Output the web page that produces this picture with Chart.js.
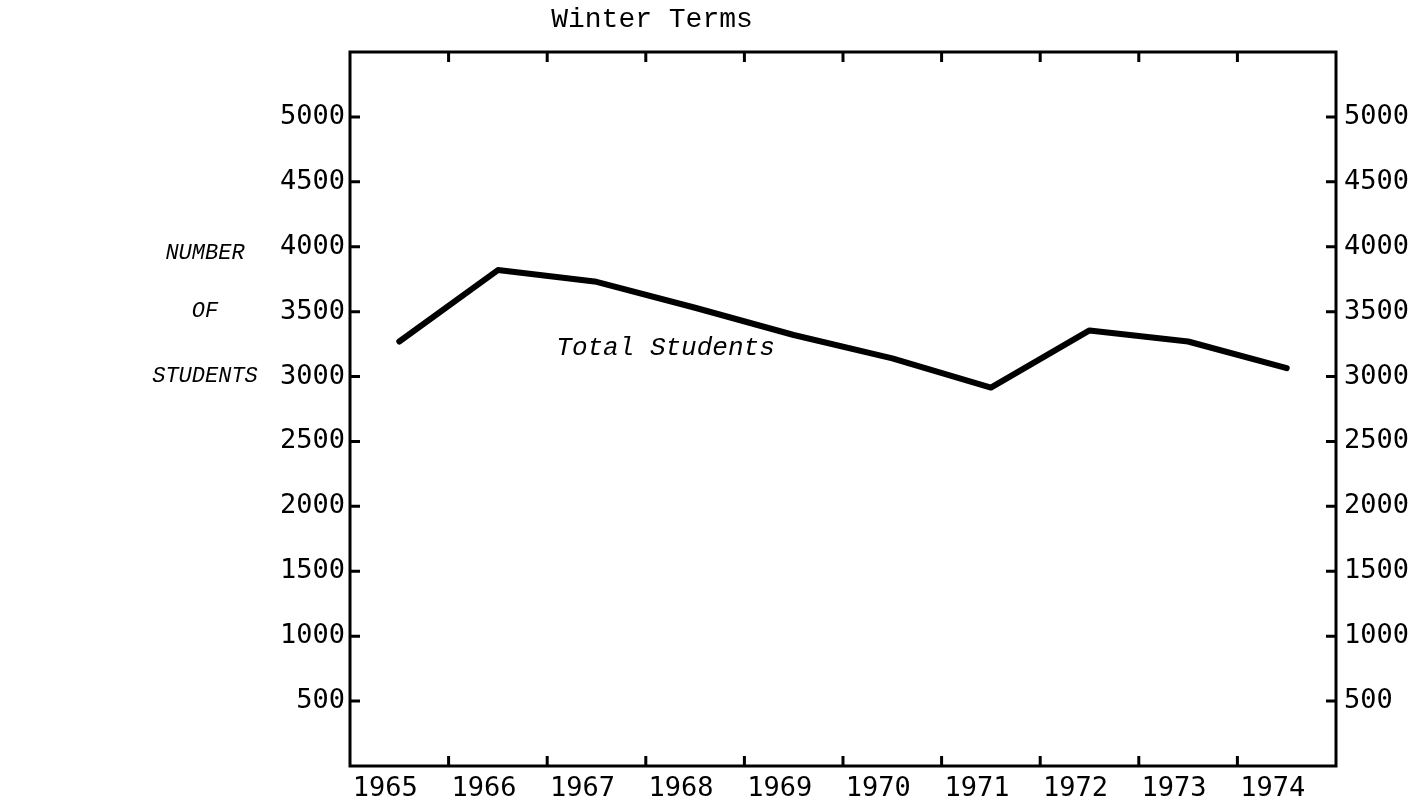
<!DOCTYPE html>
<html>
<head>
<meta charset="utf-8">
<title>Winter Terms</title>
<script src="https://cdn.jsdelivr.net/npm/chart.js@4.4.1/dist/chart.umd.min.js"></script>
<style>
  html, body { margin: 0; padding: 0; background: #fff; }
  canvas { display: block; }
</style>
</head>
<body>
<canvas id="chart" width="1426" height="804"></canvas>
<script>
// data
const years = ['1965', '1966', '1967', '1968', '1969', '1970', '1971', '1972', '1973', '1974'];
const totalStudents = [3270, 3820, 3730, 3530, 3320, 3140, 2915, 3355, 3270, 3065];
const yTicks = [500, 1000, 1500, 2000, 2500, 3000, 3500, 4000, 4500, 5000];
const sideLabel = ['NUMBER', 'OF', 'STUDENTS'];
const sideLabelAt = [3950, 3500, 3000];
const seriesName = 'Total Students';
const chartTitle = 'Winter Terms';

const tickFont = { family: '"DejaVu Sans Mono"', size: 27 };
const typeFont = '"Liberation Mono", "Courier New", monospace';

// frame, inward ticks and the typed labels
const framePlugin = {
    id: 'frame',
    afterDraw(chart) {
        const { ctx, chartArea: a, scales } = chart;
        const x = scales.x, y = scales.y;
        ctx.save();
        ctx.strokeStyle = '#000';
        ctx.lineWidth = 3;
        ctx.strokeRect(a.left, a.top, a.right - a.left, a.bottom - a.top);

        // x ticks sit between the categories, top and bottom
        ctx.beginPath();
        for (let i = 0; i < years.length - 1; i++) {
            const px = (x.getPixelForTick(i) + x.getPixelForTick(i + 1)) / 2;
            ctx.moveTo(px, a.bottom);
            ctx.lineTo(px, a.bottom - 10);
            ctx.moveTo(px, a.top);
            ctx.lineTo(px, a.top + 10);
        }
        // y ticks on both sides
        yTicks.forEach(v => {
            const py = y.getPixelForValue(v);
            ctx.moveTo(a.left, py);
            ctx.lineTo(a.left + 10, py);
            ctx.moveTo(a.right, py);
            ctx.lineTo(a.right - 10, py);
        });
        ctx.stroke();

        ctx.fillStyle = '#000';
        ctx.textAlign = 'center';
        ctx.textBaseline = 'alphabetic';
        ctx.font = '28px ' + typeFont;
        ctx.fillText(chartTitle, 652, 27);

        ctx.font = 'italic 26px ' + typeFont;
        ctx.fillText(seriesName, x.getPixelForValue(2.7), y.getPixelForValue(3166));

        ctx.font = 'italic 22px ' + typeFont;
        ctx.textBaseline = 'middle';
        sideLabel.forEach((t, i) => {
            ctx.fillText(t, 205, y.getPixelForValue(sideLabelAt[i]));
        });
        ctx.restore();
    }
};

const yAxis = (pos, w, pad) => ({
    type: 'linear',
    position: pos,
    min: 0,
    max: 5500,
    afterBuildTicks: s => { s.ticks = yTicks.map(v => ({ value: v })); },
    afterFit: s => { s.width = w; },
    grid: { display: false, drawTicks: false },
    border: { display: false },
    ticks: { color: '#000', font: tickFont, padding: pad, callback: v => String(v) }
});

new Chart(document.getElementById('chart'), {
    type: 'line',
    data: {
        labels: years,
        datasets: [{
            label: seriesName,
            data: totalStudents,
            borderColor: '#000',
            borderWidth: 6,
            pointRadius: 0,
            tension: 0,
            borderJoinStyle: 'round',
            borderCapStyle: 'round',
            fill: false,
            yAxisID: 'y'
        }, {
            // same values on the right axis, kept invisible
            data: totalStudents,
            borderWidth: 0,
            pointRadius: 0,
            yAxisID: 'y2'
        }]
    },
    options: {
        responsive: false,
        animation: false,
        devicePixelRatio: 1,
        layout: { padding: { top: 52, left: 0, right: 0, bottom: 0 } },
        plugins: {
            legend: { display: false },
            title: { display: false },
            tooltip: { enabled: false }
        },
        scales: {
            x: {
                type: 'category',
                offset: true,
                afterFit: s => { s.height = 38; },
                grid: { display: false, drawTicks: false, offset: true },
                border: { display: false },
                ticks: { color: '#000', font: tickFont, padding: 7, labelOffset: -14, maxRotation: 0, autoSkip: false }
            },
            y: yAxis('left', 350, 5),
            y2: yAxis('right', 90, 8)
        }
    },
    plugins: [framePlugin]
});
</script>
</body>
</html>
